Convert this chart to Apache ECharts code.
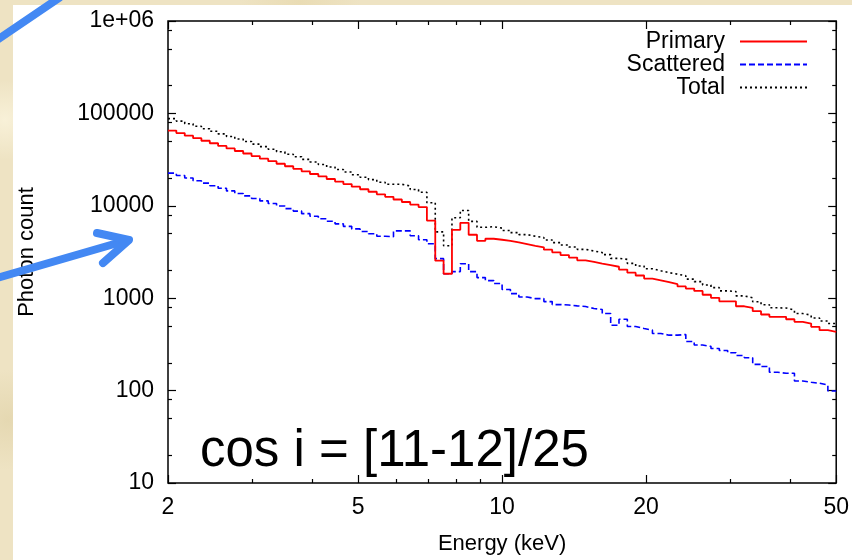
<!DOCTYPE html>
<html>
<head>
<meta charset="utf-8">
<script src="https://cdn.jsdelivr.net/npm/echarts@6.0.0/dist/echarts.min.js"></script>
<style>
html,body{margin:0;padding:0;}
body{width:852px;height:560px;position:relative;overflow:hidden;
background:#eee3c3;
background-image:radial-gradient(circle at 5px 120px, rgba(255,250,230,0.6) 0, rgba(255,250,230,0) 40px),
radial-gradient(circle at 8px 420px, rgba(220,205,160,0.5) 0, rgba(220,205,160,0) 50px),
radial-gradient(circle at 300px 2px, rgba(230,215,170,0.6) 0, rgba(230,215,170,0) 60px);}
#paper{position:absolute;left:13px;top:5px;width:839px;height:555px;background:#ffffff;}
#chart{position:absolute;left:0;top:0;width:852px;height:560px;}
</style>
</head>
<body>
<div id="paper"></div>
<div id="chart"></div>
<script>
// energy bin edges (keV), log-spaced bins
const binEdges = [2.000, 2.082, 2.168, 2.257, 2.349, 2.446, 2.546, 2.651, 2.759, 2.873,
  2.991, 3.113, 3.241, 3.374, 3.513, 3.657, 3.807, 3.963, 4.126, 4.295,
  4.472, 4.655, 4.846, 5.045, 5.253, 5.468, 5.693, 5.926, 6.170, 6.423,
  6.687, 6.961, 7.247, 7.544, 7.854, 8.176, 8.512, 8.861, 9.225, 9.604,
  10.00, 10.41, 10.84, 11.28, 11.74, 12.23, 12.73, 13.25, 13.80, 14.36,
  14.95, 15.57, 16.20, 16.87, 17.56, 18.28, 19.03, 19.82, 20.63, 21.48,
  22.36, 23.28, 24.23, 25.23, 26.27, 27.35, 28.47, 29.64, 30.85, 32.12,
  33.44, 34.81, 36.24, 37.73, 39.28, 40.89, 42.57, 44.32, 46.14, 48.03, 50.00];

const primary = [65200, 61200, 57400, 53900, 50600, 47500, 44500, 41800, 39200, 36800,
  34500, 32400, 30400, 28500, 26800, 25100, 23600, 22100, 20800, 19500,
  18300, 17200, 16100, 15100, 14200, 13300, 12500, 11700, 11000, 10300,
  9680, 6920, 2550, 1840, 5500, 6540, 4860, 4180, 4400, 4290,
  4170, 4010, 3850, 3690, 3550, 3350, 3140, 2930, 2750, 2570,
  2470, 2370, 2280, 2190, 2040, 1890, 1760, 1630, 1560, 1490,
  1420, 1340, 1270, 1200, 1090, 1010, 926, 926, 818, 786,
  723, 666, 629, 629, 592, 555, 532, 490, 451, 433];

const scattered = [22600, 21300, 20000, 18700, 17600, 16500, 15500, 14500, 13600, 12800,
  12000, 11300, 10600, 9940, 9330, 8760, 8220, 7720, 7240, 6800,
  6380, 5990, 5620, 5280, 4980, 4680, 4620, 5360, 5360, 4740,
  4290, 3880, 2680, 1840, 1940, 2360, 1940, 1670, 1550, 1440,
  1240, 1120, 1030, 990, 990, 919, 853, 843, 826, 812,
  773, 754, 682, 510, 592, 494, 470, 451, 415, 398,
  398, 405, 340, 311, 301, 286, 272, 257, 240, 227,
  192, 182, 158, 154, 154, 127, 123, 120, 115, 99];

const total = [87900, 82500, 77400, 72600, 68200, 64000, 60000, 56300, 52800, 49600,
  46500, 43700, 41000, 38400, 36100, 33900, 31800, 29800, 28000, 26300,
  24700, 23200, 21700, 20400, 19200, 18000, 17100, 17100, 16400, 15000,
  14000, 10800, 5220, 3690, 7430, 8900, 6790, 5850, 5940, 5730,
  5410, 5130, 4880, 4680, 4540, 4270, 3990, 3770, 3580, 3380,
  3240, 3120, 2960, 2700, 2630, 2380, 2230, 2080, 1980, 1890,
  1820, 1750, 1610, 1510, 1390, 1300, 1200, 1180, 1060, 1010,
  915, 850, 787, 783, 746, 682, 655, 610, 566, 532];

const seriesNames = ['Primary', 'Scattered', 'Total'];
const xMajorTicks = [2, 5, 10, 20, 50];
const xMinorTicks = [3, 4, 6, 7, 8, 9, 30, 40];
const yMajorTicks = [10, 100, 1000, 10000, 100000, 1000000];
const yMinorTicks = [20, 50, 80, 200, 500, 800, 2000, 5000, 8000, 20000, 50000, 80000, 200000, 500000, 800000];

function stepData(vals) {
  const d = vals.map((v, i) => [binEdges[i], v]);
  d.push([binEdges[binEdges.length - 1], vals[vals.length - 1]]);
  return d;
}

const FONT = 'Liberation Sans, Arial, Helvetica, sans-serif';
const chart = echarts.init(document.getElementById('chart'), null, {renderer: 'canvas'});

function xAx(pos, ticks, len, labels) {
  return {
    type: 'log', logBase: 10, min: 2, max: 50, position: pos,
    axisLine: {show: false},
    splitLine: {show: false},
    axisTick: {show: true, inside: true, length: len, customValues: ticks, lineStyle: {color: '#000', width: 1.2}},
    axisLabel: labels ? {show: true, customValues: labels, margin: 13, color: '#000', fontSize: 23, fontFamily: FONT} : {show: false},
    name: labels ? 'Energy (keV)' : '',
    nameLocation: 'middle', nameGap: 50,
    nameTextStyle: {color: '#000', fontSize: 22, fontFamily: FONT}
  };
}
function yAx(pos, ticks, len, labels) {
  return {
    type: 'log', logBase: 10, min: 10, max: 1000000, position: pos,
    axisLine: {show: false},
    splitLine: {show: false},
    axisTick: {show: true, inside: true, length: len, customValues: ticks, lineStyle: {color: '#000', width: 1.2}},
    axisLabel: labels ? {show: true, customValues: labels, margin: 14, color: '#000', fontSize: 23, fontFamily: FONT,
      formatter: function (v) { const r = Math.round(v); return r === 1000000 ? '1e+06' : String(r); }} : {show: false},
    name: labels ? 'Photon count' : '',
    nameLocation: 'middle', nameGap: 130,
    nameTextStyle: {color: '#000', fontSize: 22, fontFamily: FONT}
  };
}

const option = {
  backgroundColor: 'transparent',
  animation: false,
  grid: {left: 168, right: 14, top: 21, bottom: 75, show: true, borderColor: '#000', borderWidth: 1.5, backgroundColor: 'transparent'},
  xAxis: [
    xAx('bottom', xMajorTicks, 8, xMajorTicks),
    xAx('bottom', xMinorTicks, 4, null),
    xAx('top', xMajorTicks, 8, null),
    xAx('top', xMinorTicks, 4, null)
  ],
  yAxis: [
    yAx('left', yMajorTicks, 8, yMajorTicks),
    yAx('left', yMinorTicks, 4, null),
    yAx('right', yMajorTicks, 8, null),
    yAx('right', yMinorTicks, 4, null)
  ],
  legend: {
    data: seriesNames,
    orient: 'vertical', align: 'right',
    right: 44, top: 30, padding: 0, itemGap: 0,
    itemWidth: 67, itemHeight: 12,
    itemStyle: {opacity: 0},
    textStyle: {color: '#000', fontSize: 23, lineHeight: 23, fontFamily: FONT, padding: [0, 10, 0, 0]}
  },
  series: [
    {name: seriesNames[0], type: 'line', step: 'end', symbol: 'none', xAxisIndex: 0, yAxisIndex: 0,
      data: stepData(primary), lineStyle: {color: '#ff0000', width: 1.8}, itemStyle: {color: '#ff0000'}, z: 4},
    {name: seriesNames[1], type: 'line', step: 'end', symbol: 'none', xAxisIndex: 0, yAxisIndex: 0,
      data: stepData(scattered), lineStyle: {color: '#0000ff', width: 1.6, type: [6, 3]}, itemStyle: {color: '#0000ff'}, z: 3},
    {name: seriesNames[2], type: 'line', step: 'end', symbol: 'none', xAxisIndex: 0, yAxisIndex: 0,
      data: stepData(total), lineStyle: {color: '#000000', width: 1.6, type: [2, 3]}, itemStyle: {color: '#000000'}, z: 2}
  ],
  graphic: [
    {type: 'text', x: 200, y: 452, z: 10,
      style: {text: 'cos i = [11-12]/25', fontSize: 51, fontFamily: FONT, fill: '#000', verticalAlign: 'middle'}},
    {type: 'polyline', z: 20, shape: {points: [[-3, 40], [59, -2]]},
      style: {stroke: '#4388f3', lineWidth: 8, lineCap: 'round', fill: null}},
    {type: 'polyline', z: 20, shape: {points: [[-3, 278], [128, 240]]},
      style: {stroke: '#4388f3', lineWidth: 8, lineCap: 'round', fill: null}},
    {type: 'polyline', z: 20, shape: {points: [[97, 233], [129, 240], [103, 263]]},
      style: {stroke: '#4388f3', lineWidth: 8, lineCap: 'round', lineJoin: 'round', fill: null}}
  ]
};
chart.setOption(option);
</script>
</body>
</html>
